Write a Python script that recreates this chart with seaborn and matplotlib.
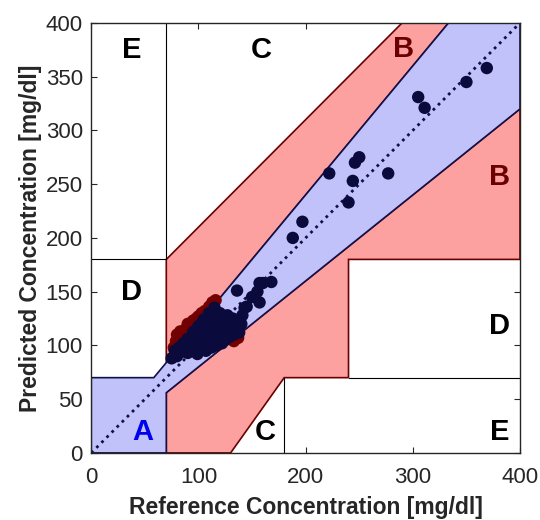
import numpy as np
import pandas as pd
import seaborn as sns
import matplotlib.pyplot as plt
from matplotlib.patches import Polygon

# Points inside zone A (reference, predicted) in mg/dl
ref_a = [75, 78, 80, 82, 84, 86, 88, 90, 90, 92, 94, 95, 96, 98, 99, 100,
         101, 102, 103, 105, 106, 107, 108, 109, 110, 111, 112, 113, 114,
         115, 116, 117, 118, 119, 120, 121, 122, 123, 124, 125, 126, 127,
         128, 129, 130, 131, 132, 133, 134, 135, 136, 137, 138, 140, 141,
         90, 95, 100, 105, 110, 115, 84, 96, 104,
         143, 136, 145, 150, 155, 157, 157, 160, 168, 188, 197, 240, 244,
         246, 250, 222, 277, 305, 311, 350, 369]
pred_a = [88, 95, 90, 98, 94, 102, 97, 105, 93, 100, 108, 96, 103, 110, 92,
          100, 106, 115, 97, 104, 112, 95, 118, 101, 108, 120, 98, 113, 104,
          125, 110, 100, 118, 107, 130, 114, 102, 122, 110, 105, 118, 128,
          112, 108, 120, 115, 125, 110, 118, 113, 122, 116, 112, 120, 128,
          106, 112, 118, 124, 130, 135, 99, 113, 122,
          135, 151, 136, 145, 150, 140, 158, 158, 159, 200, 215, 233, 253,
          270, 275, 260, 260, 331, 321, 345, 358]

# Points in zone B
ref_b = [77, 79, 80, 83, 85, 88, 90, 93, 95, 98, 100, 103, 106, 110, 113,
         116, 137, 133]
pred_b = [98, 104, 110, 113, 107, 115, 120, 118, 123, 125, 127, 130, 132,
          136, 140, 142, 107, 104]

blue_fill = "#c2c2fa"
blue_edge = "#10104a"
red_fill = "#fca0a0"
red_edge = "#6a0000"

sns.set_theme(style="ticks")
plt.rcParams["font.family"] = ["Liberation Sans", "DejaVu Sans"]

fig = plt.figure(figsize=(5.4, 5.2), dpi=100)
ax = fig.add_axes([0.169, 0.129, 0.794, 0.827])

# Zone polygons
zone_a = [(0, 0), (0, 70), (70 / 1.2, 70), (400 / 1.2, 400), (400, 400),
          (400, 320), (70, 56), (70, 0)]
zone_b_up = [(70, 84), (70, 180), (290, 400), (400 / 1.2, 400)]
zone_b_low = [(70, 0), (70, 56), (400, 320), (400, 180), (240, 180),
              (240, 70), (180, 70), (130, 0)]
ax.add_patch(Polygon(zone_b_up, closed=True, facecolor=red_fill,
                     edgecolor=red_edge, lw=1.2, zorder=1))
ax.add_patch(Polygon(zone_b_low, closed=True, facecolor=red_fill,
                     edgecolor=red_edge, lw=1.2, zorder=1))
ax.add_patch(Polygon(zone_a, closed=True, facecolor=blue_fill,
                     edgecolor=blue_edge, lw=1.2, zorder=1))

# Other zone borders
ax.plot([70, 70], [180, 400], color="black", lw=0.8, zorder=1)
ax.plot([0, 70], [180, 180], color="black", lw=0.8, zorder=1)
ax.plot([240, 400], [70, 70], color="black", lw=0.8, zorder=1)
ax.plot([180, 180], [0, 70], color="black", lw=0.8, zorder=1)

# identity line
ax.plot([0, 400], [0, 400], color=blue_edge, lw=2, ls=(0, (1, 1.6)), zorder=2)

df = pd.DataFrame({
    "ref": ref_b + ref_a,
    "pred": pred_b + pred_a,
    "zone": ["B"] * len(ref_b) + ["A"] * len(ref_a),
})
sns.scatterplot(data=df, x="ref", y="pred", hue="zone",
                palette={"A": "#0a0a3c", "B": "#730000"}, s=80,
                linewidth=0, legend=False, ax=ax, zorder=3)

# Zone labels
lab = dict(fontsize=21, fontweight="bold", ha="center", va="center", zorder=4)
ax.text(38, 375, "E", color="black", **lab)
ax.text(159, 375, "C", color="black", **lab)
ax.text(291, 376, "B", color="#6a0000", **lab)
ax.text(381, 257, "B", color="#6a0000", **lab)
ax.text(38, 150, "D", color="black", **lab)
ax.text(381, 118, "D", color="black", **lab)
ax.text(48, 19, "A", color="#0000ee", **lab)
ax.text(162, 19, "C", color="black", **lab)
ax.text(381, 19, "E", color="black", **lab)

ax.set_xlim(0, 400)
ax.set_ylim(0, 400)
ax.set_xticks([0, 100, 200, 300, 400])
ax.set_yticks(np.arange(0, 401, 50))
ax.tick_params(direction="in", top=True, right=True, labelsize=16,
               labelcolor="#262626", length=4, width=0.8)
ax.tick_params(axis="x", pad=10)
ax.tick_params(axis="y", pad=6)
for sp in ax.spines.values():
    sp.set_linewidth(1)
    sp.set_color("#262626")
    sp.set_zorder(5)

ax.set_xlabel("Reference Concentration [mg/dl]", fontsize=16.5,
              fontweight="bold", color="#262626", labelpad=6)
ax.set_ylabel("Predicted Concentration [mg/dl]", fontsize=16.5,
              fontweight="bold", color="#262626", labelpad=3)

fig.savefig("out.png", dpi=100)
